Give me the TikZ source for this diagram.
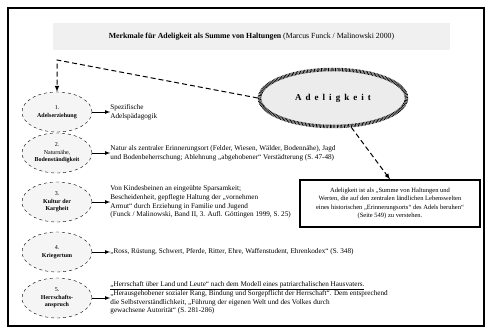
\documentclass[tikz,border=0pt]{standalone}
\usepackage{fontspec}
\setmainfont{Liberation Serif}
\newfontfamily\sperrfont[LetterSpace=45]{Liberation Serif}
\usetikzlibrary{positioning,shapes.geometric}

\begin{document}
\begin{tikzpicture}[x=1pt,y=-1pt,
        merkmal/.style={draw,dashed,ellipse,fill=gray!8,minimum width=70pt,minimum height=40pt,inner sep=0pt,align=center,font=\fontsize{6}{7.6}\selectfont},
        beschr/.style={anchor=west,align=left,inner sep=0pt,font=\fontsize{7.2}{8.8}\selectfont},
        pfeil/.style={-latex,thick},
        strich/.style={-latex,line width=1pt,dash pattern=on 5pt off 3pt}]

    \useasboundingbox (0,0) rectangle (488,331);
    \draw[line width=1.5pt] (8,8) rectangle (484,326);

    % Titel
    \node[fill=gray!12,minimum width=397pt,minimum height=27pt,font=\fontsize{7.8}{9}\selectfont] (titel) at (251.5,36.5)
        {\textbf{Merkmale für Adeligkeit als Summe von Haltungen} (Marcus Funck / Malinowski 2000)};

    % Zentrum
    \node[ellipse,draw,fill=gray!15,line width=3.5pt,dash pattern=on 0.7pt off 0.7pt,minimum width=147pt,minimum height=57pt,font=\fontsize{9}{10}\selectfont\bfseries] (adel) at (333,98)
        {\sperrfont\bfseries Adeligkeit};

    % Merkmale
    \node[merkmal] (e1) at (57,112) {1.\\\textbf{Adelserziehung}};
    \node[merkmal] (e2) at (57,153) {2.\\Naturnähe,\\\textbf{Bodenständigkeit}};
    \node[merkmal] (e3) at (57,202) {3.\\\textbf{Kultur der}\\\textbf{Kargheit}};
    \node[merkmal] (e4) at (57,252) {4.\\\textbf{Kriegertum}};
    \node[merkmal] (e5) at (57,298) {5.\\\textbf{Herrschafts-}\\\textbf{anspruch}};

    \node[beschr,right=18pt of e1] (t1) {Spezifische\\Adelspädagogik};
    \node[beschr,right=18pt of e2] (t2) {Natur als zentraler Erinnerungsort (Felder, Wiesen, Wälder, Bodennähe), Jagd\\und Bodenbeherrschung; Ablehnung „abgehobener“ Verstädterung (S.~47-48)};
    \node[beschr,right=18pt of e3] (t3) {Von Kindesbeinen an eingeübte Sparsamkeit;\\Bescheidenheit, gepflegte Haltung der „vornehmen\\Armut“ durch Erziehung in Familie und Jugend\\(Funck / Malinowski, Band II, 3. Aufl. Göttingen 1999, S.~25)};
    \node[beschr,right=18pt of e4] (t4) {„Ross, Rüstung, Schwert, Pferde, Ritter, Ehre, Waffenstudent, Ehrenkodex“ (S.~348)};
    \node[beschr,right=18pt of e5] (t5) {\underline{„Herrschaft über Land und Leute“ nach dem Modell eines patriarchalischen Hausvaters.}\\„Herausgehobener sozialer Rang, Bindung und Sorgepflicht der Herrschaft“. Dem entsprechend\\die Selbstverständlichkeit, „Führung der eigenen Welt und des Volkes durch\\gewachsene Autorität“ (S.~281-286)};

    % Zitat
    \node[draw,line width=1.2pt,minimum width=180pt,minimum height=47pt,align=center,font=\fontsize{6.5}{8.3}\selectfont] (zitat) at (390,203.5)
        {Adeligkeit ist als „Summe von Haltungen und\\Werten, die auf den zentralen ländlichen Lebenswelten\\eines historischen „Erinnerungsorts“ des Adels beruhen“\\(Seite 549) zu verstehen.};

    \coordinate (knick) at (57,60);
    \draw[strich] (adel.west) -- (knick) -- (e1.north);
    \draw[strich] (adel.-58) -- (zitat.north);

    \foreach \n in {1,...,5}
        \draw[pfeil] (e\n.east) -- (t\n.west);
\end{tikzpicture}
\end{document}
